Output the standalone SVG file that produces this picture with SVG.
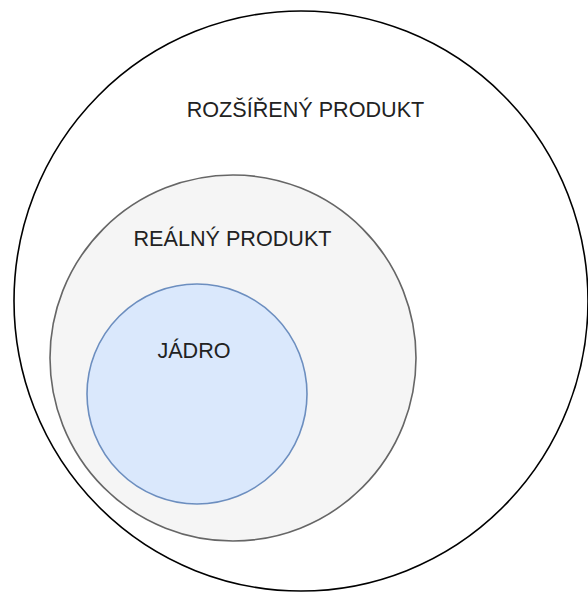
<svg xmlns="http://www.w3.org/2000/svg" width="588" height="592" viewBox="0 0 588 592">
  <style>
    .lbl { font-family: "Liberation Sans", Arial, sans-serif; font-size: 21.6px; fill: #222222; text-anchor: middle; }
  </style>
  <rect x="0" y="0" width="588" height="592" fill="#ffffff"/>
  <g id="rozsireny">
    <ellipse cx="301" cy="301" rx="287" ry="290" fill="#ffffff" stroke="#000000" stroke-width="1.6"/>
    <text class="lbl" x="305.5" y="117">ROZŠÍŘENÝ PRODUKT</text>
  </g>
  <g id="realny">
    <circle cx="233" cy="358" r="183" fill="#f5f5f5" stroke="#666666" stroke-width="1.6"/>
    <text class="lbl" x="232.5" y="246">REÁLNÝ PRODUKT</text>
  </g>
  <g id="jadro">
    <circle cx="197" cy="394" r="110" fill="#dae8fc" stroke="#6c8ebf" stroke-width="1.6"/>
    <text class="lbl" x="194" y="358">JÁDRO</text>
  </g>
  <g id="connectors"/>
</svg>
